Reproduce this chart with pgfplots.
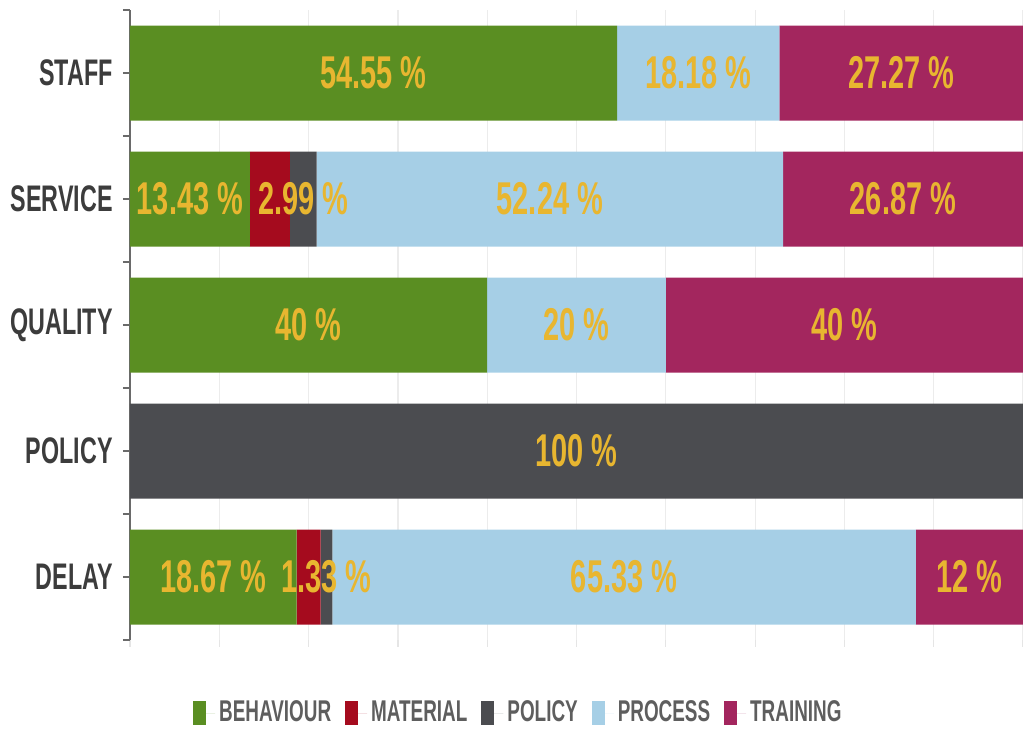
\documentclass[border=0pt]{standalone}
\usepackage{pgfplots}
\pgfplotsset{compat=1.18}
\usepackage{fontspec}
\setmainfont{Liberation Sans}[FakeStretch=0.63]
\definecolor{cbeh}{HTML}{5A8E22}
\definecolor{cmat}{HTML}{A50B1E}
\definecolor{cpol}{HTML}{4B4C50}
\definecolor{cpro}{HTML}{A6CFE6}
\definecolor{ctra}{HTML}{A3265E}
\definecolor{clab}{HTML}{E8B630}
\definecolor{ccat}{HTML}{3C3C3C}
\definecolor{cleg}{HTML}{5E5E5E}
\definecolor{caxis}{HTML}{6A6A6A}
\pgfplotsset{
  common/.style={
    at={(0,0)}, anchor=south west,
    scale only axis,
    width=446.5pt, height=315pt,
    xmin=0, xmax=100,
    ymin=-0.5, ymax=4.5,
  }
}
\begin{document}
\begin{tikzpicture}
\begin{axis}[
  common,
  xbar stacked,
  bar width=47.5pt,
  axis lines*=left,
  x axis line style={draw=none},
  y axis line style={draw=caxis, line width=0.9pt},
  xtick={0,10,...,100},
  xticklabels={},
  xmajorgrids,
  grid style={draw=gray!15, line width=0.6pt},
  xtick style={draw=gray!20, line width=0.6pt},
  ytick={-0.5,0.5,1.5,2.5,3.5,4.5},
  yticklabels={},
  ytick style={draw=caxis, line width=0.9pt},
  tick align=outside,
  major tick length=3.5pt,
  extra y ticks={0,1,2,3,4},
  extra y tick labels={DELAY,POLICY,QUALITY,SERVICE,STAFF},
  extra y tick style={tick style={draw=none}, grid=none,
    yticklabel style={font=\fontsize{18.5}{20}\selectfont\bfseries, text=ccat, inner sep=0pt, xshift=-5pt}},
  legend columns=5,
  legend style={at={(0.436,-36.5pt)}, anchor=center, draw=none, fill=none,
    font=\fontsize{15}{16}\selectfont\bfseries, text=cleg,
    /tikz/every even column/.append style={column sep=5pt}},
  legend image code/.code={\fill[#1] (0pt,-6pt) rectangle (6.5pt,6pt); \path (0pt,0pt) -- (11pt,0pt);},
]
\addplot[fill=cbeh, draw=none] coordinates {(18.67,0) (0,1) (40,2) (13.43,3) (54.55,4)};
\addplot[fill=cmat, draw=none] coordinates {(2.67,0) (0,1) (0,2) (4.48,3) (0,4)};
\addplot[fill=cpol, draw=none] coordinates {(1.33,0) (100,1) (0,2) (2.99,3) (0,4)};
\addplot[fill=cpro, draw=none] coordinates {(65.33,0) (0,1) (20,2) (52.24,3) (18.18,4)};
\addplot[fill=ctra, draw=none] coordinates {(12,0) (0,1) (40,2) (26.87,3) (27.27,4)};
\legend{BEHAVIOUR,MATERIAL,POLICY,PROCESS,TRAINING}
\end{axis}
\begin{axis}[
  common,
  hide axis,
  clip=false,
]
\addplot[only marks, mark=none, draw=none, fill=none,
  point meta=explicit symbolic,
  nodes near coords,
  nodes near coords align=center,
  every node near coord/.append style={font=\fontsize{23}{24}\selectfont\bfseries, text=clab, anchor=center, inner sep=0pt}]
  coordinates {
  (27.275,4) [54.55 \%] (63.64,4) [18.18 \%] (86.365,4) [27.27 \%]
  (6.715,3) [13.43 \%] (19.405,3) [2.99 \%] (47.02,3) [52.24 \%] (86.565,3) [26.87 \%]
  (20,2) [40 \%] (50,2) [20 \%] (80,2) [40 \%]
  (50,1) [100 \%]
  (9.335,0) [18.67 \%] (22.005,0) [1.33 \%] (55.335,0) [65.33 \%] (94,0) [12 \%]
  };
\end{axis}
\pgfresetboundingbox
\path (-65pt,-45pt) rectangle (446.5pt,320pt);
\end{tikzpicture}
\end{document}
